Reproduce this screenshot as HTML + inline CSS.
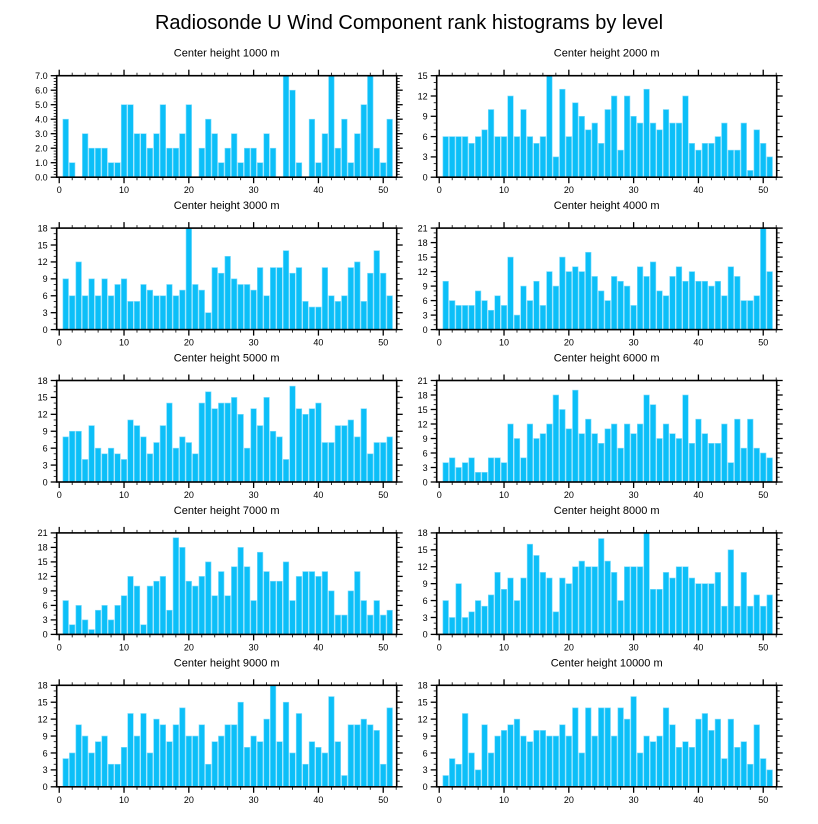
<!DOCTYPE html>
<html><head><meta charset="utf-8"><style>
html,body{margin:0;padding:0;background:#fff;}
svg{display:block;font-family:"Liberation Sans",sans-serif;}
</style></head><body>
<svg id="chart" width="818" height="824" viewBox="0 0 818 824" xmlns="http://www.w3.org/2000/svg">
<text x="409" y="29" text-anchor="middle" font-size="20">Radiosonde U Wind Component rank histograms by level</text>
</svg>
<script>
const heights = [1000, 2000, 3000, 4000, 5000, 6000, 7000, 8000, 9000, 10000];
const yMaxes = [7, 15, 18, 21, 18, 21, 21, 18, 18, 18];
const yMajorSteps = [1, 3, 3, 3, 3, 3, 3, 3, 3, 3];
const ranks = Array.from({length: 51}, (_, i) => i + 1);
const xTickLabels = [0, 10, 20, 30, 40, 50];
const v1000 = [4,1,0,3,2,2,2,1,1,5,5,3,3,2,3,5,2,2,3,5,0,2,4,3,1,2,3,1,2,2,1,3,2,0,7,6,1,0,4,1,3,7,2,4,1,3,5,7,2,1,4];
const v2000 = [6,6,6,6,5,6,7,10,6,6,12,6,10,6,5,6,15,3,13,6,11,9,7,8,5,10,12,4,12,9,8,13,8,7,10,8,8,12,5,4,5,5,6,8,4,4,8,1,7,5,3];
const v3000 = [9,6,12,6,9,6,9,6,8,9,5,5,8,7,6,6,8,6,7,18,8,7,3,11,10,13,9,8,8,7,11,6,11,11,14,10,11,5,4,4,11,6,5,6,11,12,5,10,14,10,6];
const v4000 = [10,6,5,5,5,8,6,4,7,5,15,3,9,6,10,5,12,9,15,12,13,12,16,11,8,6,11,10,9,5,13,11,14,8,7,11,13,10,12,10,10,9,10,7,13,11,6,6,7,21,12];
const v5000 = [8,9,9,4,10,6,5,6,5,4,11,10,8,5,7,10,14,6,8,7,5,14,16,13,14,14,15,12,6,13,10,15,9,8,4,17,13,12,13,14,7,7,10,10,11,8,13,5,7,7,8];
const v6000 = [4,5,3,4,5,2,2,5,5,4,12,9,5,12,9,10,12,18,15,11,19,10,13,10,8,11,12,7,12,10,12,18,16,9,12,10,9,18,8,13,10,8,8,12,4,13,7,13,7,6,5];
const v7000 = [7,2,6,3,1,5,6,3,6,8,12,10,2,10,11,12,5,20,18,11,10,12,15,8,13,8,14,18,14,7,17,13,11,11,15,7,12,13,13,12,13,9,4,4,9,13,7,4,7,4,5];
const v8000 = [6,3,9,3,4,6,5,7,11,8,10,6,10,16,14,11,10,4,10,9,12,13,12,12,17,13,11,6,12,12,12,18,8,8,11,10,12,12,10,9,9,9,11,5,15,5,11,5,7,5,7];
const v9000 = [5,6,11,9,6,8,9,4,4,7,13,9,13,6,12,11,8,11,14,9,9,11,4,8,9,11,11,15,7,9,8,12,18,8,15,6,13,4,8,7,6,16,8,2,11,11,12,11,10,4,14];
const v10000 = [2,5,4,13,6,3,11,6,9,10,11,12,9,8,10,10,9,9,11,9,14,6,14,9,14,14,9,14,12,16,6,9,8,9,14,11,7,8,7,12,13,10,12,5,12,7,8,4,11,5,3];
const seriesList = [v1000, v2000, v3000, v4000, v5000, v6000, v7000, v8000, v9000, v10000];

const svg = document.getElementById('chart');
const NS = 'http://www.w3.org/2000/svg';
const PW = 340, PH = 101.5, XMIN = -0.39, XMAX = 52.08;
function mk(tag, attrs, parent) {
  const e = document.createElementNS(NS, tag);
  for (const k in attrs) e.setAttribute(k, attrs[k]);
  parent.appendChild(e);
  return e;
}
heights.forEach((h, p) => {
  const col = p % 2, row = Math.floor(p / 2);
  const x0 = col === 0 ? 56.7 : 436.7;
  const y0 = 75.7 + row * 152.4;
  const ymax = yMaxes[p], step = yMajorSteps[p];
  const sx = v => x0 + (v - XMIN) / (XMAX - XMIN) * PW;
  const sy = v => y0 + PH - v / ymax * PH;
  const g = mk('g', {}, svg);
  
  
  const t = mk('text', {x: x0 + PW / 2, y: y0 - 19, 'text-anchor': 'middle', 'font-size': '11'}, g);
  t.textContent = 'Center height ' + h + ' m';
  
  
  const vals = seriesList[p];
  ranks.forEach((r, i) => {
    const v = vals[i];
    if (v <= 0) return;
    const b = mk('rect', {x: sx(r - 0.43), y: sy(v), width: sx(r + 0.43) - sx(r - 0.43), height: sy(0) - sy(v), fill: '#0cbff8', stroke: '#7fdcfc', 'stroke-width': '0.6'}, g);
    
    
  });
  // x ticks
  for (let k = 0; k <= 52; k += 2) {
    const major = k % 10 === 0;
    const len = major ? 6 : 3;
    const X = sx(k);
    mk('line', {x1: X, x2: X, y1: y0 + PH, y2: y0 + PH + len, stroke: '#000', 'stroke-width': major ? 1.3 : 0.8}, g);
    mk('line', {x1: X, x2: X, y1: y0, y2: y0 - len, stroke: '#000', 'stroke-width': major ? 1.3 : 0.8}, g);
  }
  xTickLabels.forEach(k => {
    const l = mk('text', {x: sx(k), y: y0 + PH + 16, 'text-anchor': 'middle', 'font-size': '9'}, g);
    l.textContent = k;
    
    
  });
  // y ticks
  const minor = step / (p === 0 ? 5 : 3);
  for (let v = 0; v <= ymax + 1e-9; v += minor) {
    const isMaj = Math.abs(v / step - Math.round(v / step)) < 1e-6;
    const len = isMaj ? 6 : 3;
    const Y = sy(v);
    mk('line', {x1: x0, x2: x0 - len, y1: Y, y2: Y, stroke: '#000', 'stroke-width': isMaj ? 1.3 : 0.8}, g);
    mk('line', {x1: x0 + PW, x2: x0 + PW + len, y1: Y, y2: Y, stroke: '#000', 'stroke-width': isMaj ? 1.3 : 0.8}, g);
  }
  for (let v = 0; v <= ymax + 1e-9; v += step) {
    const l = mk('text', {x: x0 - 9, y: sy(v) + 3.3, 'text-anchor': 'end', 'font-size': '9'}, g);
    l.textContent = p === 0 ? v.toFixed(1) : String(v);
    
    
  }
  const f = mk('rect', {x: x0, y: y0, width: PW, height: PH, fill: 'none', stroke: '#000', 'stroke-width': '1.6'}, g);
  
  
});
</script>
</body></html>
